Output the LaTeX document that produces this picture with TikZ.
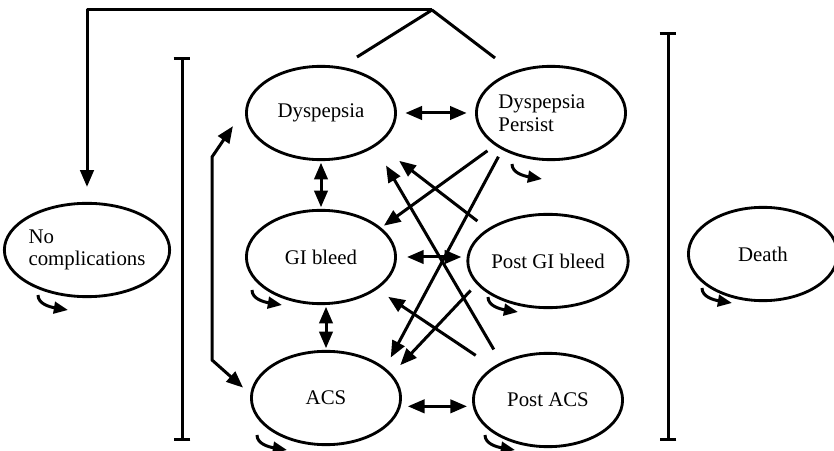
\documentclass[tikz,border=0pt]{standalone}
\usepackage{fontspec}
\setmainfont{Liberation Serif}
\usetikzlibrary{arrows.meta,calc,shapes.geometric}

\tikzset{
  state/.style={ellipse, draw, line width=1.7pt, minimum width=89.5pt, minimum height=56pt,
    inner sep=0pt, align=left, font=\fontsize{12.5}{13.5}\selectfont},
  pics/stay/.style={code={
    \draw[-{Triangle[length=8.5pt,width=7pt]}] (0,0) .. controls (0,9) and (12,12) .. (30,15);}}
}

\begin{document}
\begin{tikzpicture}[x=0.6pt, y=-0.6pt, line width=1.8pt, >={Triangle[length=10pt,width=8pt]}, line join=round]
\useasboundingbox (0,0) rectangle (834,451);

% states
\node[state, minimum width=91pt] (noc) at (87,250) {No\\complications};
\node[state] (dys) at (321,113) {Dyspepsia};
\node[state] (dp) at (551,113) {Dyspepsia\hspace*{11pt}\\Persist};
\node[state] (gi) at (321,257) {GI bleed};
\node[state] (pgi) at (548,261) {Post GI bleed};
\node[state] (acs) at (326,398) {ACS};
\node[state] (pacs) at (548,400) {Post ACS};
\node[state] (death) at (763,254) {Death};

% brackets
\draw[{Bar[width=10pt]}-{Bar[width=10pt]}] (182,57) -- (182,441);
\draw[{Bar[width=10pt]}-{Bar[width=10pt]}] (668,32) -- (668,441);

% entry from the top
\coordinate (apex) at (432,10);
\coordinate (hatL) at (357,57);
\coordinate (hatR) at (495,58);
\draw (hatL) -- (apex) -- (hatR);
\draw[->, shorten >=9pt] (apex) -| (noc.north);

% two-way moves
\draw[<->, shorten <=5pt, shorten >=5pt] (dys.east) -- (dp.west);
\draw[<->, shorten <=1pt, shorten >=1pt] (dys.south) -- (gi.north);
\draw[<->, shorten <=6pt, shorten >=3pt] (gi.east) -- (gi.east -| pgi.west);
\draw[<->, shorten <=1pt, shorten >=1pt] (gi.south -| acs.north) -- (acs.north);
\draw[<->, shorten <=3.5pt, shorten >=3pt] ([yshift=-5pt]acs.east) -- ([yshift=-5pt]acs.east -| pacs.west);

% left side
\coordinate (lb) at (212,360);
\coordinate (lt) at (212,157);
\draw[<->, shorten <=5.8pt, shorten >=13.4pt] (acs.177) -- (lb) -- (lt) -- (dys.176);

% diagonal moves
\draw[->, shorten <=5.5pt, shorten >=2pt] (dp.210.5) -- (gi.26.9);
\draw[->, shorten <=4.7pt, shorten >=7pt] (dp.217.6) -- (acs.27.7);
\draw[->, shorten <=7.6pt, shorten >=15.9pt] (pgi.152.9) -- (dys.-29.1);
\draw[->, shorten <=8.8pt, shorten >=13pt] (pacs.141.8) -- (dys.-32.9);
\draw[->, shorten <=5.2pt, shorten >=7.3pt] (pgi.198.9) -- (acs.20.5);
\draw[->, shorten <=12.4pt, shorten >=8pt] (pacs.149.9) -- (gi.-30.2);

% stays
\foreach \n/\dx/\dy in {noc/-49/45, dp/-39/51, gi/-69/33, pgi/-60/36, acs/-69/37, pacs/-63/35, death/-61/34}
  \pic at ($(\n)+(\dx,\dy)$) {stay};

\end{tikzpicture}
\end{document}
